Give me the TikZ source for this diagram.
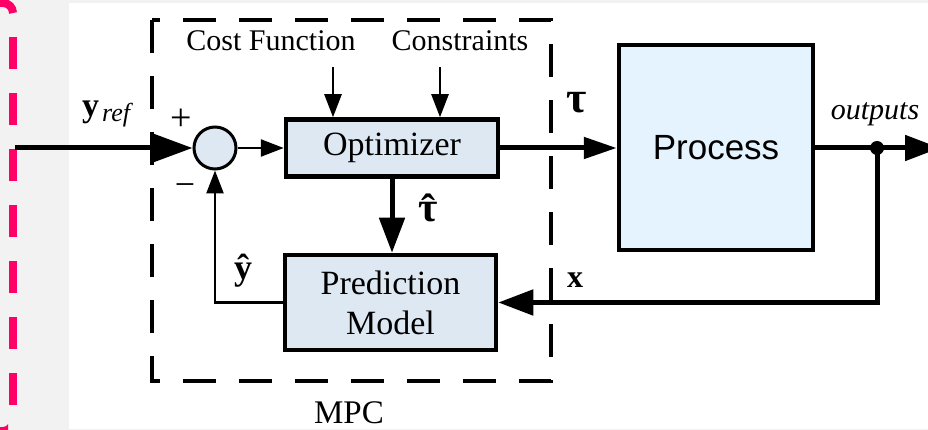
\documentclass[tikz,border=0pt]{standalone}
\usepackage{fontspec}
\setmainfont{Liberation Serif}
\newfontfamily\procfont{Liberation Sans}
\usetikzlibrary{arrows.meta}
\definecolor{pinkc}{RGB}{255,0,102}
\definecolor{bgray}{RGB}{242,242,242}
\definecolor{boxfill}{RGB}{222,232,243}
\definecolor{procfill}{RGB}{228,243,253}
\begin{document}
\begin{tikzpicture}[x=1pt,y=-1pt,
  blk/.style={draw, line width=4.5pt, fill=boxfill, inner sep=0pt, align=center,
    font=\fontsize{34}{40}\selectfont},
  bigarrow/.style={line width=5pt, -{Triangle[length=35pt,width=25pt]}},
  smallarrow/.style={line width=2.5pt, -{Triangle[length=23pt,width=17pt]}},
  lbl/.style={inner sep=0pt, font=\fontsize{30}{36}\selectfont},
  sym/.style={inner sep=0pt, font=\fontsize{34}{40}\selectfont\bfseries},
  pinkdash/.style={pinkc, line width=8pt}]
\useasboundingbox (0,0) rectangle (928,430);
\clip (0,0) rectangle (928,430);
\fill[bgray] (0,0) rectangle (928,430);
\fill[white] (69,3) rectangle (928,429);

% pink dashed frame (partially visible)
\draw[pinkdash, dash pattern=on 32pt off 24pt, dash phase=32pt] (13,13) -- (13,420);
\draw[pinkdash, rounded corners=10pt] (13,13) -- (13,3) -- (-12,3);
\begin{scope}
  \clip (0,420) rectangle (8,430);
  \draw[pinkdash, rounded corners=10pt] (13,410) -- (13,431) -- (-12,431);
\end{scope}

% MPC dashed box
\draw[line width=3.5pt, dash pattern=on 33pt off 23pt] (152,20) rectangle (551,381);
\node[inner sep=0pt, font=\fontsize{33}{40}\selectfont] (mpc) at (349,413) {MPC};

% blocks
\node[blk, minimum width=212pt, minimum height=57pt] (opt) at (392,148) {Optimizer};
\node[blk, minimum width=211pt, minimum height=95pt] (pred) at (390.5,302.5) {Prediction\\Model};
\node[draw, line width=4.5pt, fill=procfill, inner sep=0pt, minimum width=194pt, minimum height=205pt,
  font=\procfont\fontsize{35}{42}\selectfont] (proc) at (716,147.5) {Process};
\node[circle, draw, line width=3pt, fill=boxfill, minimum size=42pt, inner sep=0pt] (sum) at (215,148) {};
\node[circle, fill, inner sep=0pt, minimum size=14pt] (dot) at (877,148) {};

% labels
\node[lbl] (cost) at (271,41) {Cost Function};
\node[lbl] (cons) at (460,41) {Constraints};
\node[lbl, font=\fontsize{38}{44}\selectfont] (plus) at (181,120) {+};
\node[lbl, font=\fontsize{36}{44}\selectfont] (minus) at (185,190) {−};
\node[inner sep=0pt, anchor=base west] (yref) at (82,117)
  {{\fontsize{34}{40}\selectfont\bfseries y}\kern3pt\raisebox{-5pt}{\fontsize{26}{30}\selectfont\itshape ref}};
\node[sym, font=\fontsize{44}{50}\selectfont\bfseries] (tau) at (577,103) {τ};
\node[sym, font=\fontsize{42}{50}\selectfont\bfseries] (tauhat) at (428,213)
  {\ooalign{τ\cr\hidewidth\raisebox{-2pt}{ˆ}\hidewidth\cr}};
\node[sym, font=\fontsize{36}{42}\selectfont\bfseries] (yhat) at (243,271) {ŷ};
\node[sym, font=\fontsize{32}{40}\selectfont\bfseries] (xlbl) at (575,280) {x};
\node[inner sep=0pt, anchor=base, font=\fontsize{30}{36}\selectfont\itshape] (outl) at (875,120) {outputs};

% coordinates for free ends
\coordinate (inp) at (15,148);
\coordinate (c1) at (333,67);
\coordinate (c2) at (440,67);
\coordinate (outend) at (940,148);

% connectors
\draw[line width=5pt, -{Triangle[length=40pt,width=28pt]}] (inp) -- (sum.west);
\draw[smallarrow] (sum.east) -- (opt.west);
\draw[smallarrow] (c1) -- (c1 |- opt.north);
\draw[smallarrow] (c2) -- (c2 |- opt.north);
\draw[line width=5pt, -{Triangle[length=33pt,width=21pt]}] (opt.east) -- (opt.east -| proc.west);
\draw[bigarrow] (opt.south) -- (opt.south |- pred.north);
\draw[bigarrow] (proc.east |- dot) -- (outend);
\draw[bigarrow] (dot.center) |- (pred.east);
\draw[smallarrow] (pred.west) -| (sum.south);
\end{tikzpicture}
\end{document}
